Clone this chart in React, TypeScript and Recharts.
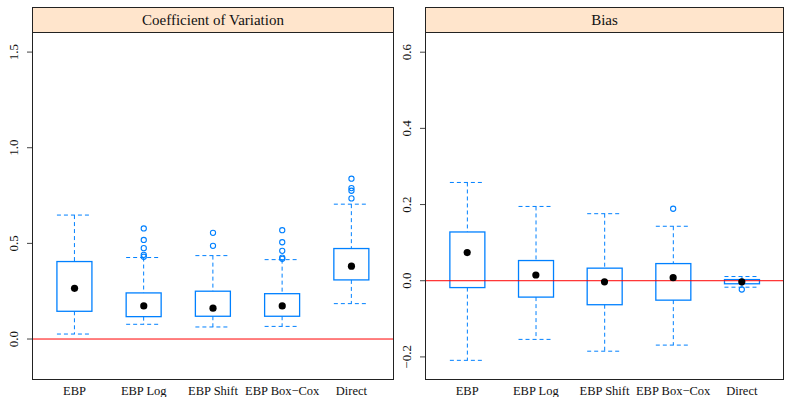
import { ComposedChart, XAxis, YAxis, Bar, Scatter, ReferenceLine } from 'recharts'

const BLUE = '#0080ff'
const FONT = '"Liberation Serif", "DejaVu Serif", serif'

const METHODS = ['EBP', 'EBP Log', 'EBP Shift', 'EBP Box\u2212Cox', 'Direct']
const POS = [1, 2, 3, 4, 5]

// coefficient of variation
const CV_LOW  = [0.026, 0.077, 0.063, 0.066, 0.185]
const CV_Q1   = [0.145, 0.117, 0.119, 0.119, 0.309]
const CV_MED  = [0.265, 0.173, 0.161, 0.173, 0.381]
const CV_Q3   = [0.405, 0.241, 0.25, 0.237, 0.473]
const CV_HIGH = [0.648, 0.426, 0.436, 0.415, 0.705]
const CV_OUT  = [[], [0.578, 0.518, 0.475, 0.44, 0.43], [0.555, 0.487], [0.569, 0.506, 0.461, 0.426, 0.419], [0.838, 0.789, 0.775, 0.735]]
const CV_TICKS = [0, 0.5, 1, 1.5]

// bias
const BIAS_LOW  = [-0.209, -0.154, -0.185, -0.169, -0.017]
const BIAS_Q1   = [-0.018, -0.043, -0.063, -0.051, -0.008]
const BIAS_MED  = [0.074, 0.015, -0.003, 0.008, -0.003]
const BIAS_Q3   = [0.128, 0.053, 0.033, 0.045, 0.003]
const BIAS_HIGH = [0.258, 0.195, 0.176, 0.143, 0.011]
const BIAS_OUT  = [[], [], [], [0.189], [-0.023]]
const BIAS_TICKS = [-0.2, 0, 0.2, 0.4, 0.6]

const fmt = (v: number) => (v < 0 ? '\u2212' + Math.abs(v).toFixed(1) : v.toFixed(1))

function buildRows(low: number[], q1: number[], med: number[], q3: number[], high: number[]) {
  return POS.map((x, i) => ({ x, low: low[i], q1: q1[i], med: med[i], q3: q3[i], high: high[i] }))
}

function buildOutliers(out: number[][]) {
  return out.flatMap((vals, i) => vals.map(y => ({ x: POS[i], y })))
}

function BoxShape(props: any) {
  const { x, y, width, height, payload } = props
  const top = Math.min(y, y + height)
  const bottom = Math.max(y, y + height)
  const k = (bottom - top) / (payload.high - payload.low)
  const yOf = (v: number) => bottom - (v - payload.low) * k
  const cx = x + width / 2
  const dash = '4 3'
  return (
    <g>
      <line x1={cx} x2={cx} y1={top} y2={yOf(payload.q3)} stroke={BLUE} strokeDasharray={dash} />
      <line x1={cx} x2={cx} y1={yOf(payload.q1)} y2={bottom} stroke={BLUE} strokeDasharray={dash} />
      <line x1={x} x2={x + width} y1={top} y2={top} stroke={BLUE} strokeDasharray={dash} />
      <line x1={x} x2={x + width} y1={bottom} y2={bottom} stroke={BLUE} strokeDasharray={dash} />
      <rect
        x={x}
        y={yOf(payload.q3)}
        width={width}
        height={yOf(payload.q1) - yOf(payload.q3)}
        fill="none"
        stroke={BLUE}
        strokeWidth={1.3}
      />
    </g>
  )
}

function YTick({ x, y, payload }: any) {
  return (
    <text transform={`translate(${x - 7},${y}) rotate(-90)`} textAnchor="middle" fontSize={13} fontFamily={FONT} fill="#111">
      {fmt(payload.value)}
    </text>
  )
}

function XTick({ x, y, payload }: any) {
  return (
    <text x={x} y={y + 16} textAnchor="middle" fontSize={12.5} fontFamily={FONT} fill="#111">
      {METHODS[payload.value - 1]}
    </text>
  )
}

interface PanelProps {
  title:    string
  left:     number
  width:    number
  rows:     any[]
  outliers: { x: number; y: number }[]
  domain:   [number, number]
  ticks:    number[]
}

function Panel({ title, left, width, rows, outliers, domain, ticks }: PanelProps) {
  return (
    <>
      <div style={{ position: 'absolute', left, top: 0 }}>
        <ComposedChart width={width} height={397} data={rows} margin={{ top: 32, right: 2, bottom: 0, left: 0 }}>
          <XAxis
            type="number"
            dataKey="x"
            domain={[0.4, 5.6]}
            ticks={POS}
            allowDataOverflow
            axisLine={false}
            tickLine={false}
            tickSize={0}
            tickMargin={0}
            height={18}
            tick={<XTick />}
          />
          <YAxis
            type="number"
            domain={domain}
            ticks={ticks}
            allowDataOverflow
            axisLine={false}
            tickLine={{ stroke: '#444' }}
            tickSize={6}
            tickMargin={2}
            width={33}
            tick={<YTick />}
          />
          <Bar
            dataKey={(d: any) => [d.low, d.high]}
            barSize={35}
            shape={<BoxShape />}
            isAnimationActive={false}
          />
          <ReferenceLine y={0} stroke="#ff0000" strokeWidth={1} />
          <Scatter
            data={outliers}
            dataKey="y"
            isAnimationActive={false}
            shape={(p: any) => <circle cx={p.cx} cy={p.cy} r={2.6} fill="none" stroke={BLUE} strokeWidth={1.1} />}
          />
          <Scatter
            dataKey="med"
            isAnimationActive={false}
            shape={(p: any) => <circle cx={p.cx} cy={p.cy} r={3.6} fill="#000" />}
          />
        </ComposedChart>
      </div>
      <div
        style={{
          position: 'absolute',
          left: left + 32,
          top: 7,
          width: width - 33,
          height: 373,
          border: '1px solid #222',
          boxSizing: 'border-box',
          pointerEvents: 'none',
        }}
      >
        <div
          style={{
            height: 25,
            boxSizing: 'border-box',
            background: '#ffe5cc',
            borderBottom: '1px solid #222',
            display: 'flex',
            alignItems: 'center',
            justifyContent: 'center',
            fontFamily: FONT,
            fontSize: 15,
            color: '#111',
          }}
        >
          {title}
        </div>
      </div>
    </>
  )
}

export default function App() {
  const cvRows = buildRows(CV_LOW, CV_Q1, CV_MED, CV_Q3, CV_HIGH)
  const biasRows = buildRows(BIAS_LOW, BIAS_Q1, BIAS_MED, BIAS_Q3, BIAS_HIGH)
  return (
    <div style={{ position: 'absolute', left: 0, top: 0, width: 785, height: 397, background: '#fff', overflow: 'hidden' }}>
      <Panel
        title="Coefficient of Variation"
        left={0}
        width={395}
        rows={cvRows}
        outliers={buildOutliers(CV_OUT)}
        domain={[-0.209, 1.605]}
        ticks={CV_TICKS}
      />
      <Panel
        title="Bias"
        left={393}
        width={392}
        rows={biasRows}
        outliers={buildOutliers(BIAS_OUT)}
        domain={[-0.258, 0.653]}
        ticks={BIAS_TICKS}
      />
    </div>
  )
}
